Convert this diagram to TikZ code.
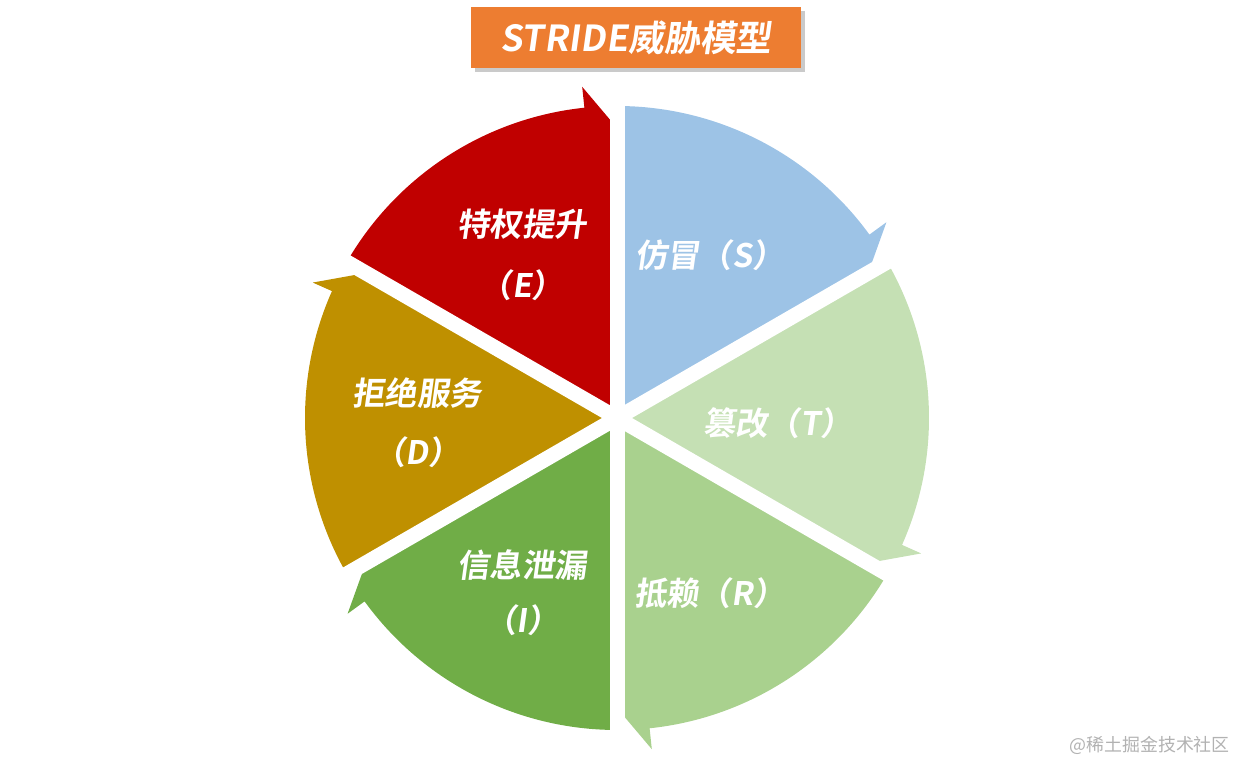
\documentclass[tikz,border=0pt]{standalone}
\usepackage{fontspec}
\usetikzlibrary{shadows,calc}
\newfontfamily\cjkb[FakeSlant=0.14]{Noto Sans CJK SC Bold}
\newfontfamily\cjkr{Noto Sans CJK SC}
\definecolor{cS}{HTML}{9DC3E6}
\definecolor{cT}{HTML}{C5E0B4}
\definecolor{cR}{HTML}{A9D18E}
\definecolor{cI}{HTML}{70AD47}
\definecolor{cD}{HTML}{BF9000}
\definecolor{cE}{HTML}{C00000}
\definecolor{cTitle}{HTML}{ED7D31}
\tikzset{
  lbl/.style={text=white, inner sep=0pt, font=\cjkb\fontsize{32.5}{38}\selectfont},
  gapline/.style={draw=white, line width=15bp, line cap=butt},
  titlebox/.style={fill=cTitle, minimum width=330bp, minimum height=61bp, inner sep=0pt,
    drop shadow={shadow xshift=4bp, shadow yshift=-4bp, opacity=0.35, fill=black!60},
    text=white, font=\cjkb\fontsize{36}{40}\selectfont},
  wmark/.style={text=black!30, inner sep=0pt, font=\cjkr\fontsize{18}{20}\selectfont}
}
\newcommand{\sector}[3]{%
  \fill[#3] (C) -- ($(C)+(#1:312)$) arc[start angle=#1, end angle=#2+6, radius=312]
    -- ($(C)+(#2+6:333)$) -- ($(C)+(#2:290)$) -- cycle;}
\begin{document}
\begin{tikzpicture}[x=1bp,y=1bp]
\useasboundingbox (0,0) rectangle (1236,762);
\coordinate (C) at (617,344);
\sector{90}{30}{cS}
\sector{30}{-30}{cT}
\sector{-30}{-90}{cR}
\sector{-90}{-150}{cI}
\sector{-150}{-210}{cD}
\sector{150}{90}{cE}
\foreach \a in {90,30,-30}{
  \draw[gapline] ($(C)+(\a:345)$) -- ($(C)+(\a+180:345)$);
}
\node[titlebox] (title) at (636,724.5) {STRIDE威胁模型};
\node[lbl] (e1) at (522,538) {特权提升};
\node[lbl] (e2) at (522,477) {（E）};
\node[lbl] (s1) at (710,507) {仿冒（S）};
\node[lbl] (d1) at (417,369) {拒绝服务};
\node[lbl] (d2) at (417,310) {（D）};
\node[lbl] (t1) at (778,339) {篡改（T）};
\node[lbl] (i1) at (522,197) {信息泄漏};
\node[lbl] (i2) at (522,142) {（I）};
\node[lbl] (r1) at (710,169) {抵赖（R）};
\node[wmark, anchor=east] (wm) at (1230,17) {@稀土掘金技术社区};
\end{tikzpicture}
\end{document}
